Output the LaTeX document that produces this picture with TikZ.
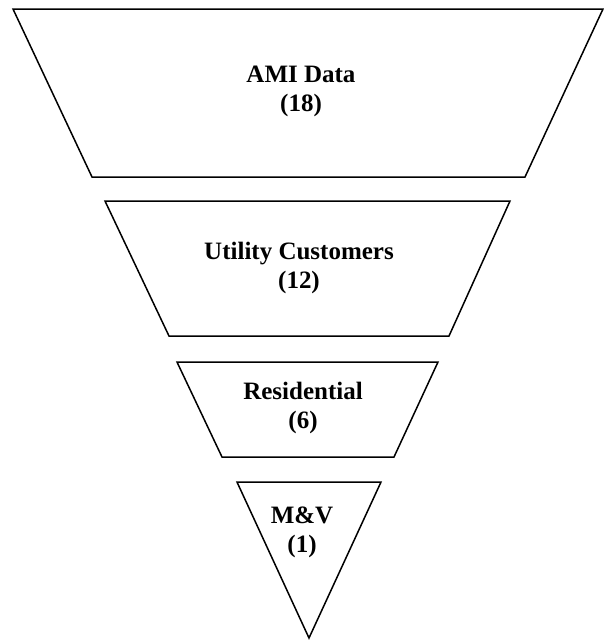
\documentclass[tikz,border=0pt]{standalone}
\usepackage{fontspec}
\setmainfont{Liberation Serif}
\begin{document}
\begin{tikzpicture}[x=1pt, y=-1pt,
	level/.style={draw=black, line width=1.5pt, line join=miter},
	levelText/.style={align=center, inner sep=0pt, font=\fontsize{25}{29}\selectfont\bfseries}]
	\useasboundingbox (0,0) rectangle (604,641);

	\draw[level] (13,9) -- (603,9) -- (525,177) -- (92,177) -- cycle;
	\draw[level] (105,201) -- (510,201) -- (449,336) -- (169,336) -- cycle;
	\draw[level] (177,362) -- (438,362) -- (394,457) -- (222,457) -- cycle;
	\draw[level] (237,482) -- (381,482) -- (309,638) -- cycle;

	\node[levelText](amiText) at (301,91){AMI Data\\(18)};
	\node[levelText](utilityText) at (299,268){Utility Customers\\(12)};
	\node[levelText](residentialText) at (303,408){Residential\\(6)};
	\node[levelText](mvText) at (302,532){M\&V\\(1)};
\end{tikzpicture}
\end{document}
